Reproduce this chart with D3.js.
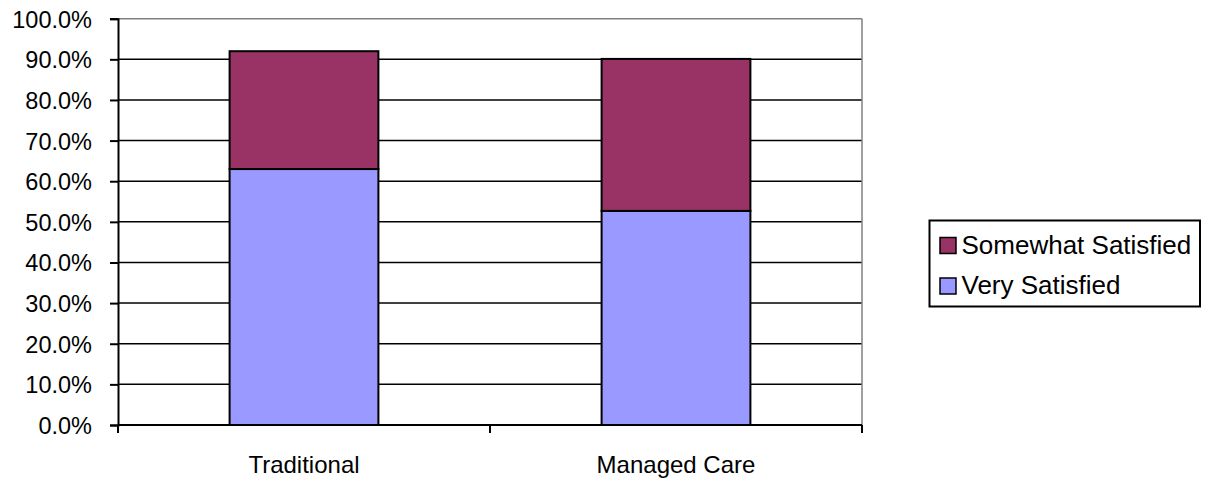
<!DOCTYPE html>
<html>
<head>
<meta charset="utf-8">
<script src="https://cdn.jsdelivr.net/npm/d3@7"></script>
<style>
  html, body { margin: 0; padding: 0; background: #fff; }
  svg { display: block; }
  text { font-family: "Liberation Sans", Arial, sans-serif; fill: #000; }
</style>
</head>
<body>
<svg id="chart" width="1209" height="480"></svg>
<script>
// Satisfaction shares by plan type (fraction of respondents)
const categories = ["Traditional", "Managed Care"];
const verySatisfied = [0.630, 0.527];
const somewhatSatisfied = [0.290, 0.374];
const seriesNames = ["Very Satisfied", "Somewhat Satisfied"];
const seriesColors = ["#9999FF", "#993366"];
const yTicks = [0, 0.1, 0.2, 0.3, 0.4, 0.5, 0.6, 0.7, 0.8, 0.9, 1.0];

const FONT = 23.5;
const CAT_FONT = 24;
const LEGEND_FONT = 26;
const svg = d3.select("#chart");
const plot = { left: 118, right: 862, top: 18.7, bottom: 425 };

const x = d3.scaleBand()
  .domain(categories)
  .range([plot.left, plot.right])
  .paddingInner(0.6)
  .paddingOuter(0.3);

const y = d3.scaleLinear().domain([0, 1]).range([plot.bottom, plot.top]);

// Stack the two series
const rows = categories.map((c, i) => ({
  category: c,
  "Very Satisfied": verySatisfied[i],
  "Somewhat Satisfied": somewhatSatisfied[i]
}));
const stacked = d3.stack().keys(seriesNames)(rows);

// Gridlines
svg.append("g")
  .selectAll("line")
  .data(yTicks.filter(t => t > 0 && t < 1))
  .join("line")
  .attr("x1", plot.left).attr("x2", plot.right)
  .attr("y1", d => y(d)).attr("y2", d => y(d))
  .attr("stroke", "#000").attr("stroke-width", 1.5);

// Plot frame (top and right edges)
svg.append("line")
  .attr("x1", plot.left).attr("x2", plot.right)
  .attr("y1", y(1)).attr("y2", y(1))
  .attr("stroke", "#808080").attr("stroke-width", 1.5);
svg.append("line")
  .attr("x1", plot.right).attr("x2", plot.right)
  .attr("y1", y(1)).attr("y2", plot.bottom)
  .attr("stroke", "#808080").attr("stroke-width", 1.5);

// Bars
svg.append("g")
  .selectAll("g")
  .data(stacked)
  .join("g")
  .attr("fill", (d, i) => seriesColors[i])
  .selectAll("rect")
  .data(d => d)
  .join("rect")
  .attr("x", d => x(d.data.category))
  .attr("width", x.bandwidth())
  .attr("y", d => y(d[1]))
  .attr("height", d => y(d[0]) - y(d[1]))
  .attr("stroke", "#000")
  .attr("stroke-width", 2);

// Y axis
const yAxis = svg.append("g")
  .attr("transform", `translate(${plot.left},0)`)
  .call(d3.axisLeft(y).tickValues(yTicks).tickFormat(d3.format(".1%")).tickSizeOuter(0).tickSize(8).tickPadding(18));
yAxis.select(".domain").attr("stroke", "#000").attr("stroke-width", 2);
yAxis.selectAll(".tick line").attr("stroke", "#000").attr("stroke-width", 2);
yAxis.selectAll(".tick text")
  .attr("font-size", FONT)
  .attr("font-family", "Liberation Sans, Arial, sans-serif")
  .attr("dy", "0.36em");

// X axis with boundary ticks between categories
const xAxisG = svg.append("g").attr("transform", `translate(0,${plot.bottom})`);
xAxisG.append("line")
  .attr("x1", plot.left).attr("x2", plot.right)
  .attr("stroke", "#000").attr("stroke-width", 2);
const boundaries = [plot.left, (x(categories[0]) + x.bandwidth() + x(categories[1])) / 2, plot.right];
xAxisG.selectAll("line.tk")
  .data(boundaries)
  .join("line")
  .attr("class", "tk")
  .attr("x1", d => d).attr("x2", d => d)
  .attr("y1", 0).attr("y2", 8)
  .attr("stroke", "#000").attr("stroke-width", 2);
xAxisG.selectAll("text")
  .data(categories)
  .join("text")
  .attr("x", d => x(d) + x.bandwidth() / 2)
  .attr("y", 48)
  .attr("text-anchor", "middle")
  .attr("font-size", CAT_FONT)
  .text(d => d);

// Legend
const legend = svg.append("g").attr("transform", "translate(929.5,220.5)");
legend.append("rect")
  .attr("width", 270.5).attr("height", 86)
  .attr("fill", "#fff").attr("stroke", "#000").attr("stroke-width", 2);
const legendItems = [
  { name: seriesNames[1], color: seriesColors[1] },
  { name: seriesNames[0], color: seriesColors[0] }
];
const li = legend.selectAll("g.item")
  .data(legendItems)
  .join("g")
  .attr("class", "item")
  .attr("transform", (d, i) => `translate(10.5,${17 + i * 40.5})`);
li.append("rect")
  .attr("width", 16).attr("height", 16)
  .attr("fill", d => d.color)
  .attr("stroke", "#000").attr("stroke-width", 1.5);
li.append("text")
  .attr("x", 21.5).attr("y", 16)
  .attr("font-size", LEGEND_FONT)
  .text(d => d.name);
</script>
</body>
</html>
